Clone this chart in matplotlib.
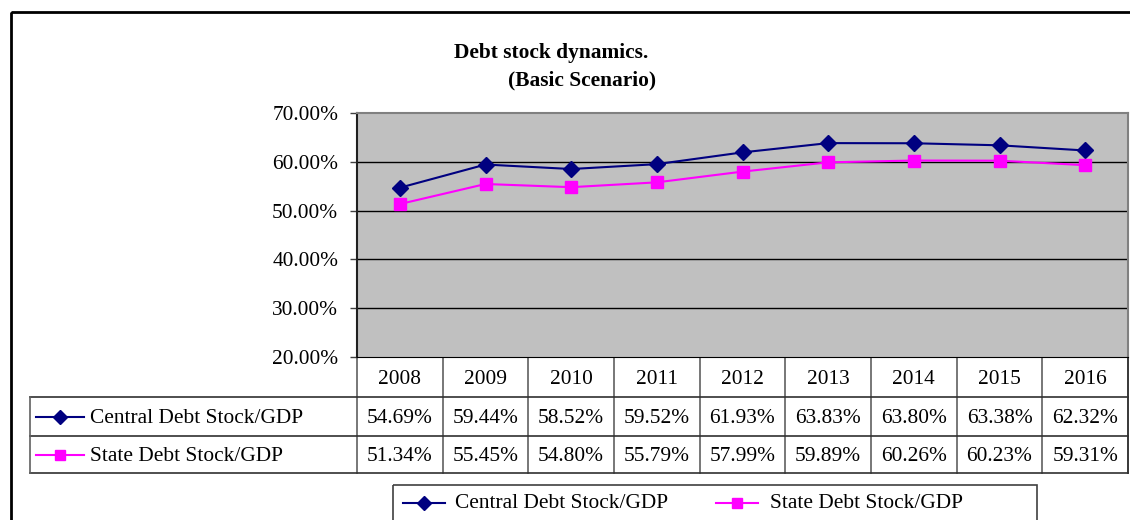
import matplotlib
matplotlib.use("Agg")
import matplotlib.pyplot as plt
import matplotlib.transforms as mtransforms
from matplotlib.patches import Rectangle
from matplotlib.lines import Line2D

plt.rcParams['font.family'] = ['Liberation Serif', 'DejaVu Serif']

years = ['2008', '2009', '2010', '2011', '2012', '2013', '2014', '2015', '2016']
central = [54.69, 59.44, 58.52, 59.52, 61.93, 63.83, 63.80, 63.38, 62.32]
state = [51.34, 55.45, 54.80, 55.79, 57.99, 59.89, 60.26, 60.23, 59.31]
series_names = ['Central Debt Stock/GDP', 'State Debt Stock/GDP']
y_ticks = [20, 30, 40, 50, 60, 70]

FS = 15.4
W, H = 1130, 520
fig = plt.figure(figsize=(W / 100, H / 100), dpi=100)

# overlay in pixel coords for border, title, table rows
ov = fig.add_axes([0, 0, 1, 1])
ov.set_xlim(0, W)
ov.set_ylim(H, 0)
ov.axis('off')

# plot area
L, R, T, B = 357, 1128, 113, 357
ax = fig.add_axes([L / W, 1 - B / H, (R - L) / W, (B - T) / H])
ax.set_facecolor('#C0C0C0')
x = list(range(len(years)))
ax.plot(x, central, color='#000080', lw=1.5, marker='D', ms=8, zorder=3)
ax.plot(x, state, color='#FF00FF', lw=1.5, marker='s', ms=8, zorder=3)
ax.set_xlim(-0.5, len(years) - 0.5)
ax.set_ylim(20, 70)
ax.set_yticks(y_ticks)
ax.set_yticklabels([f'{v:.2f}%' for v in y_ticks], fontsize=FS)
ax.set_xticks([])
for v in y_ticks[1:-1]:
    ax.axhline(v, color='black', lw=1, zorder=1)
for s in ['top', 'right']:
    ax.spines[s].set_color('#808080')
    ax.spines[s].set_linewidth(1.5)
ax.spines['left'].set_color('#202020')
ax.spines['left'].set_linewidth(1.5)
ax.spines['bottom'].set_color('black')
ax.tick_params(axis='y', length=5, width=1, color='#404040', pad=8.5)

# outer chart border
ov.add_patch(Rectangle((11, 12), W + 20, H + 20, fill=False, ec='black', lw=2))

# title
ov.text(454, 58, 'Debt stock dynamics.', fontsize=FS, fontweight='bold', va='baseline', ha='left')
ov.text(508, 85, '(Basic Scenario)', fontsize=FS, fontweight='bold', va='baseline', ha='left')

# data table: x from ax data coords, y in pixels
bt = mtransforms.blended_transform_factory(ax.transData, ov.transData)
rows_y = [357, 397, 436, 473]
n = len(years)
edge = '#303030'
for i in range(n + 1):
    ov.plot([i - 0.5, i - 0.5], [rows_y[0], rows_y[-1]], color='#606060', lw=1.2, transform=bt, clip_on=False)
ov.plot([n - 0.5, n - 0.5], [rows_y[0], rows_y[-1]], color=edge, lw=1.2, transform=bt, clip_on=False)
for yy in rows_y[1:]:
    ov.plot([30, R], [yy, yy], color=edge, lw=1.2, clip_on=False)
ov.plot([30, 30], [rows_y[1], rows_y[-1]], color='#606060', lw=1.2)
for i, yr in enumerate(years):
    ov.text(i, (rows_y[0] + rows_y[1]) / 2 + 3, yr, transform=bt, ha='center', va='center', fontsize=FS)
    ov.text(i, (rows_y[1] + rows_y[2]) / 2 + 2, f'{central[i]:.2f}%', transform=bt, ha='center', va='center', fontsize=FS)
    ov.text(i, (rows_y[2] + rows_y[3]) / 2 + 2, f'{state[i]:.2f}%', transform=bt, ha='center', va='center', fontsize=FS)

styles = [dict(color='#000080', marker='D', ms=7), dict(color='#FF00FF', marker='s', ms=7)]
for k, name in enumerate(series_names):
    yc = (rows_y[k + 1] + rows_y[k + 2]) / 2
    ov.add_line(Line2D([36, 84], [yc, yc], lw=1.5, color=styles[k]['color']))
    ov.plot([60], [yc], ls='none', **styles[k])
    ov.text(90, yc + 2, name, ha='left', va='center', fontsize=FS)

# legend
ov.add_patch(Rectangle((393, 485), 1037 - 393, 60, fill=False, ec='#404040', lw=1.2, clip_on=True))
leg_pos = [(403, 455), (716, 770)]
for k, name in enumerate(series_names):
    x0, xt = leg_pos[k]
    yc = 503
    ov.add_line(Line2D([x0, x0 + 42], [yc, yc], lw=1.5, color=styles[k]['color']))
    ov.plot([x0 + 21], [yc], ls='none', **styles[k])
    ov.text(xt, yc + 1, name, ha='left', va='center', fontsize=FS)

fig.savefig('out.png', dpi=100)
